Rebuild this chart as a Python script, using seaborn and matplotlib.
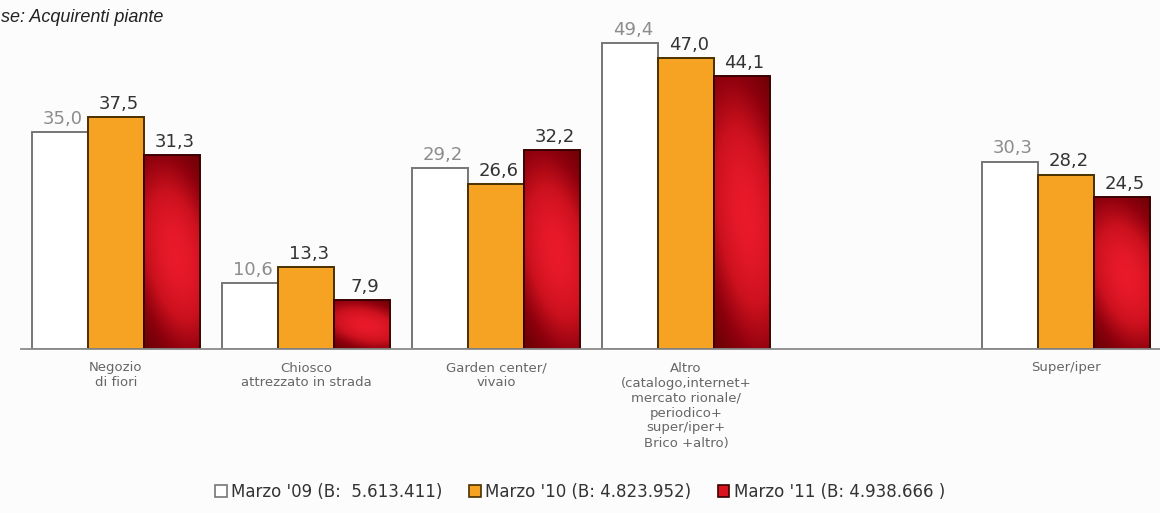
import numpy as np
import pandas as pd
import seaborn as sns
import matplotlib.pyplot as plt
from matplotlib.colors import LinearSegmentedColormap
from matplotlib.patches import Patch

# ---- data ----
categories = ["Negozio\ndi fiori", "Chiosco\nattrezzato in strada", "Garden center/\nvivaio",
              "Altro\n(catalogo,internet+\nmercato rionale/\nperiodico+\nsuper/iper+\nBrico +altro)",
              " ", "Super/iper"]
series = ["Marzo '09 (B:  5.613.411)", "Marzo '10 (B: 4.823.952)", "Marzo '11 (B: 4.938.666 )"]
cat_keys = ["Negozio", "Chiosco", "Garden", "Altro", "Super"]
values_09 = [35.0, 10.6, 29.2, 49.4, 30.3]
values_10 = [37.5, 13.3, 26.6, 47.0, 28.2]
values_11 = [31.3, 7.9, 32.2, 44.1, 24.5]
order_keys = ["Negozio", "Chiosco", "Garden", "Altro", "Vuoto", "Super"]
title_text = "se: Acquirenti piante"

rows = []
for s, vals in zip(series, [values_09, values_10, values_11]):
    for c, v in zip(cat_keys, vals):
        rows.append({"cat": c, "serie": s, "val": v})
df = pd.DataFrame(rows)

sns.set_theme(style="white")
plt.rcParams['font.family'] = ['DejaVu Sans']

bg = "#fcfcfc"
fig = plt.figure(figsize=(11.6, 5.13), dpi=100, facecolor=bg)
ax = fig.add_axes([21 / 1160, (513 - 349) / 513, 1140 / 1160, 344 / 513])
ax.set_facecolor(bg)

face = ["#ffffff", "#f6a324", "#c81420"]
edges = ["#767676", "#4a3000", "#3a0000"]
sns.barplot(data=df, x="cat", y="val", hue="serie", order=order_keys, hue_order=series,
            palette=face, width=0.88, gap=0, dodge=True, ax=ax, legend=False,
            edgecolor="#333333", linewidth=1.4, saturation=1)

cmap = LinearSegmentedColormap.from_list("rg", ["#560000", "#8a000c", "#cc111e", "#e91a2a"])
nx, ny = 60, 160
u = np.linspace(0, 1, nx)[None, :]
v = np.linspace(1, 0, ny)[:, None]
grad = np.exp(-((u - 0.58) / 0.85) ** 2 - ((v - 0.5 + 0.2 * (u - 0.5)) / 0.48) ** 2)

label_cols = ["#8c8c8c", "#333333", "#333333"]
for i, cont in enumerate(ax.containers):
    for bar in cont:
        h = bar.get_height()
        if np.isnan(h):
            continue
        bar.set_edgecolor(edges[i])
        if i == 2:
            x0, y0, w = bar.get_x(), bar.get_y(), bar.get_width()
            im = ax.imshow(grad, cmap=cmap, extent=(x0, x0 + w, y0, y0 + h), vmin=0, vmax=1,
                           aspect='auto', zorder=bar.get_zorder() - 0.1, interpolation='bicubic')
            im.set_clip_path(bar)
            bar.set_facecolor('none')
        ax.annotate(f"{h:.1f}".replace(".", ","), (bar.get_x() + bar.get_width() / 2, h),
                    xytext=(2, 3), textcoords="offset points", ha="center", va="bottom",
                    fontsize=13, color=label_cols[i])

ax.set_xlim(-0.5, 5.5)
ax.set_ylim(0, 55.6)
ax.set_aspect('auto')

for sp in ["left", "right", "top"]:
    ax.spines[sp].set_visible(False)
ax.spines["bottom"].set_color("#8a8a8a")
ax.spines["bottom"].set_linewidth(1.3)
ax.set_yticks([])
ax.set_xticks(range(len(categories)), labels=categories)
ax.set_xticks(np.arange(-0.5, 6.0, 1.0), minor=True)
ax.tick_params(axis="x", which="major", length=0, pad=9, labelsize=9.5, labelcolor="#666666")
ax.tick_params(axis="x", which="minor", length=6, direction="inout", color="#8a8a8a", width=1.2)
for t in ax.get_xticklabels():
    t.set_linespacing(1.2)
ax.set_xlabel("")
ax.set_ylabel("")

handles = [Patch(facecolor=face[k] if k < 2 else "#d9141e", edgecolor=edges[k], linewidth=1.2,
                 label=series[k]) for k in range(3)]
fig.legend(handles=handles, loc="center", bbox_to_anchor=(0.5, 1 - 492 / 513), ncol=3,
           frameon=False, fontsize=12, handlelength=0.7, handleheight=0.7,
           handletextpad=0.25, columnspacing=1.6, labelcolor="#333333")

fig.text(1 / 1160, 1 - 17 / 513, title_text, ha="left", va="center", fontsize=13,
         style="italic", color="#222222", family=["Liberation Sans Narrow", "Liberation Sans"])

fig.savefig("out.png", dpi=100, facecolor=bg)
